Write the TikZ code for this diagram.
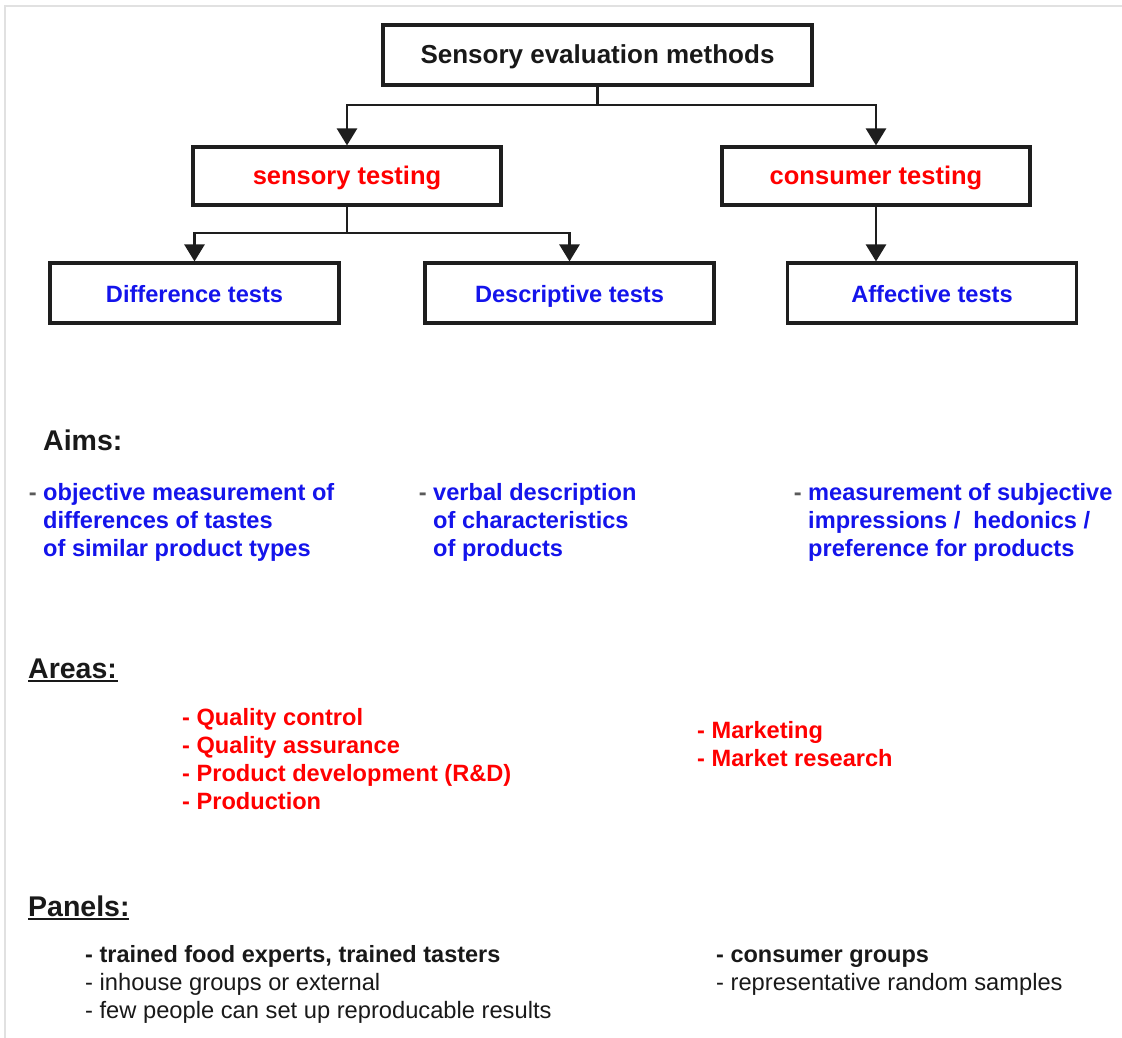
\documentclass[tikz,border=0pt]{standalone}
\usepackage{fontspec}
\setmainfont{Liberation Sans}
\usetikzlibrary{arrows.meta}

\definecolor{boxline}{RGB}{30,30,30}
\definecolor{headred}{RGB}{255,0,0}
\definecolor{headblue}{RGB}{20,20,235}
\definecolor{ink}{RGB}{25,25,25}
\definecolor{dashgray}{RGB}{90,90,90}
\definecolor{edge}{RGB}{225,225,225}

\begin{document}
\begin{tikzpicture}[x=1pt,y=-1pt,
  box/.style={draw=boxline, line width=3.1pt, fill=white, inner sep=0pt,
    minimum height=60pt, text height=20pt, text depth=2pt},
  rootfont/.style={font=\fontsize{26}{30}\selectfont\bfseries, text=ink},
  midfont/.style={font=\fontsize{25.5}{30}\selectfont\bfseries, text=headred},
  lowfont/.style={font=\fontsize{23.6}{28}\selectfont\bfseries, text=headblue},
  link/.style={draw=boxline, line width=2.6pt},
  tip/.style={-{Triangle[width=20pt,length=17pt]}},
  line/.style={anchor=base west, inner sep=0pt},
  heading/.style={line, font=\fontsize{28.5}{32}\selectfont\bfseries, text=ink},
  aim/.style={line, font=\fontsize{23.6}{28}\selectfont\bfseries, text=headblue},
  area/.style={line, font=\fontsize{23.6}{28}\selectfont\bfseries, text=headred},
  panelbold/.style={line, font=\fontsize{23.5}{28}\selectfont\bfseries, text=ink},
  panel/.style={line, font=\fontsize{23.7}{28}\selectfont, text=ink},
]
\useasboundingbox (0,0) rectangle (1122,1038);

% faint frame along the top and left edges
\draw[edge, line width=2pt] (5,1038) -- (5,6) -- (1122,6);

% ---------- tree of boxes ----------
\node[box, rootfont, minimum width=429pt] (root) at (597.5,55) {Sensory evaluation methods};

\node[box, midfont, minimum width=308pt, minimum height=58pt] (sens) at (347,176) {sensory testing};
\node[box, midfont, minimum width=308pt, minimum height=58pt] (cons) at (876,176) {consumer testing};

\node[box, lowfont, minimum width=289pt] (diff) at (194.5,293) {Difference tests};
\node[box, lowfont, minimum width=289pt] (desc) at (569.5,293) {Descriptive tests};
\node[box, lowfont, minimum width=289pt] (aff)  at (932,293)   {Affective tests};

% connectors
\coordinate (forkb) at (root.south |- 0,105);
\draw[link] (root.south) -- (forkb);
\draw[link,tip] (forkb) -| (sens.north);
\draw[link,tip] (forkb) -| (cons.north);

\coordinate (split) at (sens.south |- 0,233);
\draw[link] (sens.south) -- (split);
\draw[link,tip] (split) -| (diff.north);
\draw[link,tip] (split) -| (desc.north);

\draw[link,tip] (cons.south) -- (cons.south |- aff.north);

% ---------- Aims ----------
\node[heading] (aims) at (43,450) {Aims:};

\node[aim] (a1a) at (43,500) {\llap{\textcolor{dashgray}{- }}objective measurement of};
\node[aim] (a1b) at (43,528) {differences of tastes};
\node[aim] (a1c) at (43,556) {of similar product types};

\node[aim] (a2a) at (433,500) {\llap{\textcolor{dashgray}{- }}verbal description};
\node[aim] (a2b) at (433,528) {of characteristics};
\node[aim] (a2c) at (433,556) {of products};

\node[aim] (a3a) at (808,500) {\llap{\textcolor{dashgray}{- }}measurement of subjective};
\node[aim] (a3b) at (808,528) {impressions /\ \ hedonics /};
\node[aim] (a3c) at (808,556) {preference for products};

% ---------- Areas ----------
\node[heading] (areas) at (28,678) {Areas:};
\draw[ink, line width=1.6pt] (areas.base west) ++(0,3) -- ++(90,0);

\node[area] (r1a) at (182,725) {- Quality control};
\node[area] (r1b) at (182,753) {- Quality assurance};
\node[area] (r1c) at (182,781) {- Product development (R\&D)};
\node[area] (r1d) at (182,809) {- Production};

\node[area] (r2a) at (697,738) {- Marketing};
\node[area] (r2b) at (697,766) {- Market research};

% ---------- Panels ----------
\node[heading] (panels) at (28,916) {Panels:};
\draw[ink, line width=1.6pt] (panels.base west) ++(0,3) -- ++(101,0);

\node[panelbold] (p1a) at (85,962)  {- trained food experts, trained tasters};
\node[panel]     (p1b) at (85,990)  {- inhouse groups or external};
\node[panel]     (p1c) at (85,1018) {- few people can set up reproducable results};

\node[panelbold] (p2a) at (716,962) {- consumer groups};
\node[panel]     (p2b) at (716,990) {- representative random samples};
\end{tikzpicture}
\end{document}
